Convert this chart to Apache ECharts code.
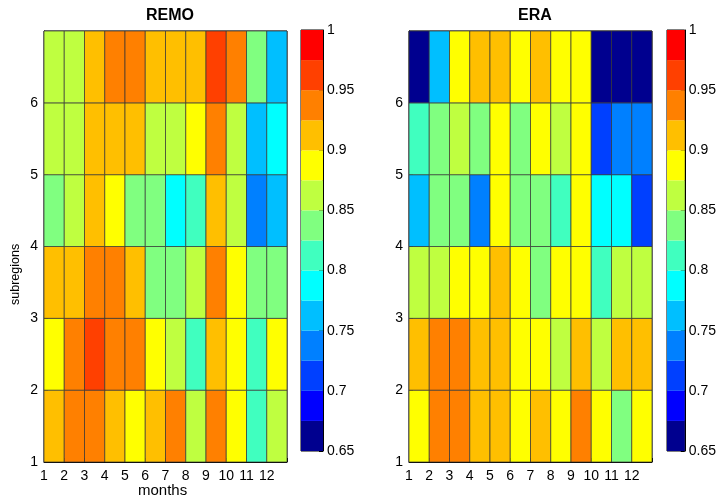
<!DOCTYPE html>
<html>
<head>
<meta charset="utf-8">
<script src="https://cdn.jsdelivr.net/npm/echarts@6/dist/echarts.min.js"></script>
<style>
  html, body { margin: 0; padding: 0; background: #fff; }
  #chart { width: 719px; height: 499px; }
</style>
</head>
<body>
<div id="chart"></div>
<script>
// Month and subregion labels
const months = [1, 2, 3, 4, 5, 6, 7, 8, 9, 10, 11, 12];
const subregions = [1, 2, 3, 4, 5, 6];

// Correlation per subregion (row) and month (column), REMO model
const remo = [
  [0.91, 0.94, 0.94, 0.91, 0.89, 0.91, 0.94, 0.86, 0.94, 0.89, 0.81, 0.86], // subregion 1
  [0.89, 0.94, 0.96, 0.94, 0.94, 0.89, 0.86, 0.81, 0.91, 0.89, 0.81, 0.89], // subregion 2
  [0.91, 0.91, 0.94, 0.94, 0.91, 0.84, 0.84, 0.86, 0.94, 0.89, 0.84, 0.84], // subregion 3
  [0.84, 0.86, 0.91, 0.89, 0.84, 0.84, 0.79, 0.81, 0.91, 0.86, 0.74, 0.76], // subregion 4
  [0.86, 0.86, 0.91, 0.91, 0.91, 0.86, 0.86, 0.89, 0.94, 0.86, 0.76, 0.79], // subregion 5
  [0.86, 0.86, 0.91, 0.94, 0.94, 0.91, 0.91, 0.91, 0.96, 0.94, 0.84, 0.76]  // subregion 6
];

// Correlation per subregion (row) and month (column), ERA reanalysis
const era = [
  [0.89, 0.94, 0.94, 0.91, 0.91, 0.89, 0.91, 0.89, 0.94, 0.89, 0.84, 0.89],
  [0.91, 0.94, 0.94, 0.91, 0.91, 0.89, 0.89, 0.86, 0.91, 0.86, 0.91, 0.91],
  [0.86, 0.86, 0.89, 0.89, 0.91, 0.89, 0.84, 0.89, 0.89, 0.81, 0.86, 0.86],
  [0.76, 0.84, 0.84, 0.74, 0.89, 0.84, 0.84, 0.81, 0.89, 0.79, 0.79, 0.71],
  [0.81, 0.84, 0.86, 0.84, 0.89, 0.84, 0.89, 0.86, 0.89, 0.71, 0.74, 0.74],
  [0.66, 0.76, 0.89, 0.91, 0.91, 0.89, 0.91, 0.89, 0.89, 0.66, 0.66, 0.66]
];

// Discrete colour scale: 14 levels from 0.65 to 1
const levelEdges = [0.65, 0.675, 0.7, 0.725, 0.75, 0.775, 0.8, 0.825, 0.85, 0.875, 0.9, 0.925, 0.95, 0.975, 1.0];
const levelColors = ['#00008f', '#0000ff', '#0040ff', '#0080ff', '#00bfff', '#00ffff', '#40ffbf',
                     '#80ff80', '#bfff40', '#ffff00', '#ffbf00', '#ff8000', '#ff4000', '#ff0000'];

const FONT = '"Liberation Sans", Arial, sans-serif';

function toCells(matrix) {
  const out = [];
  matrix.forEach((row, r) => row.forEach((v, c) => out.push([months[c], subregions[r], v])));
  return out;
}
const colorbarData = levelColors.map((_, i) => [levelEdges[i], levelEdges[i + 1], (levelEdges[i] + levelEdges[i + 1]) / 2]);

function renderCell(params, api) {
  const x = api.value(0), y = api.value(1);
  const a = api.coord([x, y + 1]);
  const b = api.coord([x + 1, y]);
  return {
    type: 'rect',
    shape: { x: a[0], y: a[1], width: b[0] - a[0], height: b[1] - a[1] },
    style: { fill: api.visual('color'), stroke: '#333', lineWidth: 0.7 }
  };
}
function renderLevel(params, api) {
  const a = api.coord([0, api.value(1)]);
  const b = api.coord([1, api.value(0)]);
  return {
    type: 'rect',
    shape: { x: a[0], y: a[1], width: b[0] - a[0], height: b[1] - a[1] },
    style: { fill: api.visual('color'), stroke: null }
  };
}

const heatX = (gi) => ({
  type: 'value', gridIndex: gi, min: 1, max: 13, interval: 1,
  axisLine: { onZero: false, lineStyle: { color: '#000', width: 1 } },
  axisTick: { inside: true, length: 4, lineStyle: { color: '#000' } },
  axisLabel: { color: '#000', fontFamily: FONT, fontSize: 14, margin: 7,
               formatter: v => (v >= 13 ? '' : String(v)) },
  splitLine: { show: false }
});
const heatY = (gi) => ({
  type: 'value', gridIndex: gi, min: 1, max: 7, interval: 1,
  axisLine: { onZero: false, lineStyle: { color: '#000', width: 1 } },
  axisTick: { inside: true, length: 4, lineStyle: { color: '#000' } },
  axisLabel: { color: '#000', fontFamily: FONT, fontSize: 14, margin: 6,
               formatter: v => (v >= 7 ? '' : String(v)) },
  splitLine: { show: false }
});
const barX = (gi) => ({
  type: 'value', gridIndex: gi, min: 0, max: 1,
  axisLine: { show: false }, axisTick: { show: false }, axisLabel: { show: false }, splitLine: { show: false }
});
const barY = (gi) => ({
  type: 'value', gridIndex: gi, min: 0.65, max: 1, interval: 0.05, position: 'right',
  axisLine: { show: true, onZero: false, lineStyle: { color: '#000', width: 1 } },
  axisTick: { inside: true, length: 4, lineStyle: { color: '#000' } },
  axisLabel: { color: '#000', fontFamily: FONT, fontSize: 14, margin: 4,
               formatter: v => String(Math.round(v * 100) / 100) },
  splitLine: { show: false }
});

const chart = echarts.init(document.getElementById('chart'), null, { renderer: 'canvas' });
chart.setOption({
  animation: false,
  backgroundColor: '#fff',
  title: [
    { text: 'REMO', left: 165, top: 3, textAlign: 'center',
      textStyle: { fontFamily: FONT, fontSize: 16, fontWeight: 'bold', color: '#000' } },
    { text: 'ERA', left: 530, top: 3, textAlign: 'center',
      textStyle: { fontFamily: FONT, fontSize: 16, fontWeight: 'bold', color: '#000' } }
  ],
  grid: [
    { left: 44, top: 31, width: 243, height: 431, show: true, borderColor: '#000', borderWidth: 1, backgroundColor: 'transparent' },
    { left: 301, top: 30, width: 22, height: 421, show: true, borderColor: '#000', borderWidth: 1, backgroundColor: 'transparent' },
    { left: 409, top: 31, width: 243, height: 431, show: true, borderColor: '#000', borderWidth: 1, backgroundColor: 'transparent' },
    { left: 667, top: 30, width: 22, height: 421, show: true, borderColor: '#000', borderWidth: 1, backgroundColor: 'transparent' }
  ],
  xAxis: [heatX(0), barX(1), heatX(2), barX(3)],
  yAxis: [heatY(0), barY(1), heatY(2), barY(3)],
  visualMap: {
    type: 'piecewise', show: false, dimension: 2, seriesIndex: [0, 1, 2, 3],
    pieces: levelColors.map((c, i) => ({ gte: levelEdges[i], lt: levelEdges[i + 1] + (i === levelColors.length - 1 ? 0.001 : 0), color: c }))
  },
  series: [
    { type: 'custom', name: 'REMO', xAxisIndex: 0, yAxisIndex: 0, renderItem: renderCell,
      encode: { x: 0, y: 1 }, data: toCells(remo), z: 1 },
    { type: 'custom', name: 'REMO scale', xAxisIndex: 1, yAxisIndex: 1, renderItem: renderLevel,
      encode: { y: [0, 1] }, data: colorbarData, z: 1 },
    { type: 'custom', name: 'ERA', xAxisIndex: 2, yAxisIndex: 2, renderItem: renderCell,
      encode: { x: 0, y: 1 }, data: toCells(era), z: 1 },
    { type: 'custom', name: 'ERA scale', xAxisIndex: 3, yAxisIndex: 3, renderItem: renderLevel,
      encode: { y: [0, 1] }, data: colorbarData, z: 1 }
  ],
  graphic: [
    { type: 'text', left: 138, top: 483, z: 10,
      style: { text: 'months', font: '15px ' + FONT, fill: '#000' } },
    { type: 'text', x: 9, y: 305, rotation: Math.PI / 2, z: 10,
      style: { text: 'subregions', font: '12.5px ' + FONT, fill: '#000' } }
  ]
});
</script>
</body>
</html>
